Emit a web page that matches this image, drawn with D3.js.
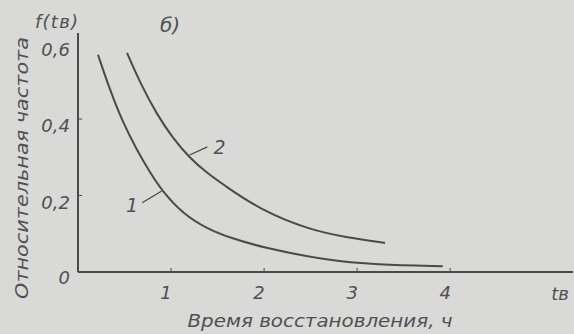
<!DOCTYPE html>
<html>
<head>
<meta charset="utf-8">
<script src="https://cdn.jsdelivr.net/npm/d3@7"></script>
<style>
  html, body { margin: 0; padding: 0; background: #d9d9d7; }
  svg { display: block; }
  text { font-family: "DejaVu Sans", sans-serif; font-style: italic; fill: #505050; }
</style>
</head>
<body>
<div id="chart"></div>
<script>
// curve 1
const t1 = [0.215, 0.34, 0.48, 0.63, 0.77, 0.91, 1.13, 1.39, 1.63, 1.98, 2.68, 3.2, 3.92];
const f1 = [0.568, 0.478, 0.392, 0.32, 0.262, 0.21, 0.152, 0.113, 0.09, 0.064, 0.03, 0.019, 0.015];
// curve 2
const t2 = [0.527, 0.667, 0.85, 1.02, 1.2, 1.39, 1.6, 1.96, 2.49, 2.9, 3.3];
const f2 = [0.573, 0.495, 0.411, 0.35, 0.298, 0.258, 0.222, 0.163, 0.11, 0.09, 0.076];

const xTicks = [1, 2, 3, 4];
const yTicks = [0, 0.2, 0.4, 0.6];
const yTickLabels = ["0", "0,2", "0,4", "0,6"];

const width = 574, height = 334;
const ink = "#4a4a4a";

const svg = d3.select("#chart").append("svg")
    .attr("width", width)
    .attr("height", height);

const x = d3.scaleLinear().domain([0, 5.32]).range([78, 573]);
const y = d3.scaleLinear().domain([0, 0.625]).range([272, 33]);

// axes
svg.append("line")
    .attr("x1", x(0)).attr("x2", x(5.32))
    .attr("y1", y(0)).attr("y2", y(0))
    .attr("stroke", ink).attr("stroke-width", 2);
svg.append("line")
    .attr("x1", x(0)).attr("x2", x(0))
    .attr("y1", y(0)).attr("y2", y(0.625))
    .attr("stroke", ink).attr("stroke-width", 2);

svg.selectAll(".xtick")
    .data(xTicks)
    .enter().append("line")
    .attr("x1", d => x(d)).attr("x2", d => x(d))
    .attr("y1", y(0) - 4).attr("y2", y(0) + 1)
    .attr("stroke", ink).attr("stroke-width", 1);

svg.selectAll(".ytick")
    .data(yTicks.slice(1, 3))
    .enter().append("line")
    .attr("x1", x(0)).attr("x2", x(0) + 4)
    .attr("y1", d => y(d)).attr("y2", d => y(d))
    .attr("stroke", ink).attr("stroke-width", 1);

svg.selectAll(".xlab")
    .data(xTicks)
    .enter().append("text")
    .attr("x", d => x(d) - 5)
    .attr("y", 299)
    .attr("text-anchor", "middle")
    .attr("font-size", 18)
    .text(d => d);

svg.selectAll(".ylab")
    .data(yTicks)
    .enter().append("text")
    .attr("x", 70)
    .attr("y", (d, i) => i === 0 ? y(d) + 12 : y(d) + 13)
    .attr("text-anchor", "end")
    .attr("font-size", 18)
    .text((d, i) => yTickLabels[i]);

svg.append("text")
    .attr("x", x(5.18))
    .attr("y", 300)
    .attr("text-anchor", "middle")
    .attr("font-size", 18)
    .text("tв");

svg.append("text")
    .attr("x", 35)
    .attr("y", 28)
    .attr("font-size", 18)
    .attr("textLength", 43)
    .text("f(tв)");

svg.append("text")
    .attr("x", 170)
    .attr("y", 32)
    .attr("text-anchor", "middle")
    .attr("font-size", 20)
    .text("б)");

svg.append("text")
    .attr("transform", "translate(28,168) rotate(-90)")
    .attr("text-anchor", "middle")
    .attr("font-size", 17)
    .attr("textLength", 262)
    .attr("lengthAdjust", "spacingAndGlyphs")
    .text("Относительная частота");

svg.append("text")
    .attr("x", 320)
    .attr("y", 327)
    .attr("text-anchor", "middle")
    .attr("font-size", 17)
    .attr("textLength", 265)
    .attr("lengthAdjust", "spacingAndGlyphs")
    .text("Время восстановления, ч");

// curves
const line = d3.line()
    .x(d => x(d[0]))
    .y(d => y(d[1]))
    .curve(d3.curveBasis);

[[t1, f1], [t2, f2]].forEach(([ts, fs]) => {
    svg.append("path")
        .datum(ts.map((t, i) => [t, fs[i]]))
        .attr("d", line)
        .attr("fill", "none")
        .attr("stroke", ink)
        .attr("stroke-width", 2);
});

// curve labels with leaders
const labels = [
    { text: "1", lx: 0.58, ly: 0.175, from: [0.69, 0.181], to: [0.9, 0.212] },
    { text: "2", lx: 1.52, ly: 0.327, from: [1.2, 0.306], to: [1.39, 0.327] }
];
labels.forEach(l => {
    svg.append("line")
        .attr("x1", x(l.from[0])).attr("y1", y(l.from[1]))
        .attr("x2", x(l.to[0])).attr("y2", y(l.to[1]))
        .attr("stroke", ink).attr("stroke-width", 1.3);
    svg.append("text")
        .attr("x", x(l.lx))
        .attr("y", y(l.ly) + 7)
        .attr("text-anchor", "middle")
        .attr("font-size", 19)
        .text(l.text);
});
</script>
</body>
</html>
